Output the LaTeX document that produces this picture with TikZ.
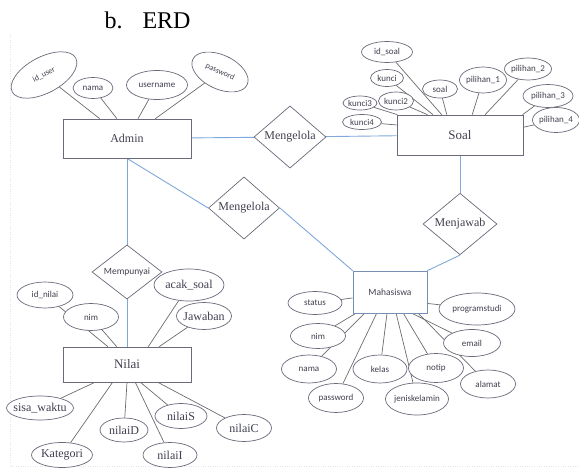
\documentclass[tikz,border=0pt]{standalone}
\usepackage{fontspec}
\setmainfont{Liberation Serif}
\setsansfont{Carlito}
\usepackage{tikz}
\usetikzlibrary{shapes.geometric,backgrounds}
\definecolor{txt}{HTML}{404050}
\definecolor{edge}{HTML}{6A6A7A}
\definecolor{relblue}{HTML}{7FA8DA}
\tikzstyle{entity} = [rectangle, draw=edge, line width=0.7pt, fill=white, text=txt, inner sep=0pt, font=\fontsize{12}{14}\selectfont]
\tikzstyle{attr} = [ellipse, draw=edge, line width=0.7pt, fill=white, text=txt, inner xsep=-3pt, inner ysep=0pt, font=\sffamily\fontsize{9}{10}\selectfont]
\tikzstyle{sattr} = [attr, font=\fontsize{12}{14}\selectfont]
\tikzstyle{rel} = [diamond, draw=edge, line width=0.7pt, fill=white, text=txt, inner sep=0pt, font=\fontsize{12}{14}\selectfont]
\tikzstyle{line} = [draw=gray!85!black, line width=0.7pt]
\tikzstyle{rline} = [draw=relblue, line width=0.9pt]

\begin{document}
\begin{tikzpicture}[x=1pt, y=-1pt]
    \useasboundingbox (0,0) rectangle (579,468);
    \draw[gray!20, dotted] (10,35) -- (10,466) -- (579,466);
    \node[anchor=base west, font=\fontsize{24}{28}\selectfont] (title) at (101,29) {b.\hspace{20pt}ERD};

    % entities
    \node[entity, minimum width=128pt, minimum height=39pt] (admin) at (127,138.5) {Admin};
    \node[entity, minimum width=126pt, minimum height=40pt, font=\fontsize{13}{15}\selectfont] (soal) at (460,135) {Soal};
    \node[entity, minimum width=128pt, minimum height=35pt, font=\fontsize{13}{15}\selectfont] (nilai) at (127,364.5) {Nilai};
    \node[entity, draw=relblue!60!edge, minimum width=74pt, minimum height=42pt, font=\sffamily\fontsize{9.5}{11}\selectfont] (mhs) at (390,292) {Mahasiswa};

    % relations
    \node[rel, minimum width=72pt, minimum height=45pt] (mengelola1) at (290,137) {Mengelola};
    \node[rel, minimum width=71pt, minimum height=45pt] (mengelola2) at (244,208) {Mengelola};
    \node[rel, minimum width=70pt, minimum height=45pt, font=\sffamily\fontsize{9.5}{11}\selectfont] (mempunyai) at (127,272) {Mempunyai};
    \node[rel, minimum width=74pt, minimum height=45pt] (menjawab) at (460,224) {Menjawab};

    % Admin
    \node[attr, rotate=28, minimum width=72pt, minimum height=36pt, font=\sffamily\fontsize{8}{9}\selectfont] (iduser) at (44,75) {id\_user};
    \node[attr, minimum width=40pt, minimum height=21pt] (nama) at (93,88) {nama};
    \node[attr, minimum width=61pt, minimum height=29pt] (username) at (157,85) {username};
    \node[attr, rotate=-25, minimum width=60pt, minimum height=34pt, font=\sffamily\fontsize{8}{9}\selectfont] (password) at (220,72) {password};

    % Soal
    \node[attr, minimum width=51pt, minimum height=21pt] (idsoal) at (387,52) {id\_soal};
    \node[attr, minimum width=33pt, minimum height=17pt] (kunci) at (387,78) {kunci};
    \node[attr, minimum width=34pt, minimum height=14pt] (kunci3) at (360,103) {kunci3};
    \node[attr, minimum width=35pt, minimum height=18pt] (kunci2) at (396,101) {kunci2};
    \node[attr, minimum width=39pt, minimum height=15pt] (kunci4) at (362,122) {kunci4};
    \node[attr, minimum width=35pt, minimum height=18pt] (soalattr) at (440,89) {soal};
    \node[attr, minimum width=47pt, minimum height=26pt] (pil1) at (483,80) {pilihan\_1};
    \node[attr, minimum width=47pt, minimum height=22pt] (pil2) at (528,69) {pilihan\_2};
    \node[attr, minimum width=50pt, minimum height=23pt] (pil3) at (548,96) {pilihan\_3};
    \node[attr, minimum width=47pt, minimum height=25pt] (pil4) at (556,120) {pilihan\_4};

    % Nilai
    \node[attr, minimum width=56pt, minimum height=26pt] (idnilai) at (45,295) {id\_nilai};
    \node[attr, minimum width=55pt, minimum height=27pt] (nimB) at (91,317) {nim};
    \node[sattr, minimum width=70pt, minimum height=32pt] (acaksoal) at (189,285) {acak\_soal};
    \node[sattr, minimum width=55pt, minimum height=27pt] (jawaban) at (204,316) {Jawaban};
    \node[sattr, minimum width=64pt, minimum height=24pt] (sisawaktu) at (40,408) {sisa\_waktu};
    \node[sattr, minimum width=61pt, minimum height=25pt] (kategori) at (62,455) {Kategori};
    \node[sattr, minimum width=48pt, minimum height=24pt] (nilaiD) at (124,430) {nilaiD};
    \node[sattr, minimum width=54pt, minimum height=25pt] (nilaiI) at (170,455) {nilaiI};
    \node[sattr, minimum width=52pt, minimum height=25pt] (nilaiS) at (181,416) {nilaiS};
    \node[sattr, minimum width=55pt, minimum height=27pt] (nilaiC) at (244,428) {nilaiC};

    % Mahasiswa
    \node[attr, minimum width=54pt, minimum height=23pt] (status) at (315,303) {status};
    \node[attr, minimum width=76pt, minimum height=32pt] (prodi) at (477,309) {programstudi};
    \node[attr, minimum width=55pt, minimum height=25pt] (nimA) at (318,336) {nim};
    \node[attr, minimum width=55pt, minimum height=28pt] (namaB) at (309,369) {nama};
    \node[attr, minimum width=55pt, minimum height=29pt] (passwordB) at (336,398) {password};
    \node[attr, minimum width=54pt, minimum height=28pt] (kelas) at (380,369) {kelas};
    \node[attr, minimum width=63pt, minimum height=32pt] (jk) at (417,399) {jeniskelamin};
    \node[attr, minimum width=55pt, minimum height=29pt] (notip) at (436,368) {notip};
    \node[attr, minimum width=57pt, minimum height=27pt] (email) at (472,343) {email};
    \node[attr, minimum width=55pt, minimum height=28pt] (alamat) at (488,384) {alamat};

    \begin{scope}[on background layer]
        \draw[rline] (admin) -- (mengelola1);
        \draw[rline] (mengelola1) -- (soal);
        \draw[rline] (admin.south) -- (mengelola2.west);
        \draw[rline] (mengelola2.east) -- (mhs.north west);
        \draw[rline] (admin) -- (mempunyai);
        \draw[rline] (mempunyai) -- (nilai);
        \draw[rline] (soal) -- (menjawab);
        \draw[rline] (menjawab.south) -- (mhs.north east);

        \draw[line] (iduser) -- (admin.144);
        \draw[line] (nama) -- (admin.117);
        \draw[line] (username) -- (admin.61);
        \draw[line] (password) -- (admin.35);

        \draw[line] (idsoal) -- (soal.132);
        \draw[line] (kunci) -- (soal.143);
        \draw[line] (kunci2) -- (soal.148);
        \draw[line] (kunci3) -- (soal.162);
        \draw[line] (kunci4) -- (soal.171);
        \draw[line] (soalattr) -- (soal.123);
        \draw[line] (pil1) -- (soal.59);
        \draw[line] (pil2) -- (soal.39);
        \draw[line] (pil3) -- (soal.18);
        \draw[line] (pil4) -- (soal.7);

        \draw[line] (idnilai) -- (nilai.137);
        \draw[line] (nimB) -- (nilai.120);
        \draw[line] (acaksoal) -- (nilai.40);
        \draw[line] (jawaban) -- (nilai.29);
        \draw[line] (sisawaktu) -- (nilai.209);
        \draw[line] (kategori) -- (nilai.231);
        \draw[line] (nilaiD) -- (nilai.270);
        \draw[line] (nilaiI) -- (nilai.295);
        \draw[line] (nilaiS) -- (nilai.307);
        \draw[line] (nilaiC) -- (nilai.330);

        \draw[line] (status) -- (mhs.189);
        \draw[line] (prodi) -- (mhs.343);
        \draw[line] (nimA) -- (mhs.212);
        \draw[line] (namaB) -- (mhs.220);
        \draw[line] (passwordB) -- (mhs.238);
        \draw[line] (kelas) -- (mhs.262);
        \draw[line] (jk) -- (mhs.286);
        \draw[line] (notip) -- (mhs.302);
        \draw[line] (email) -- (mhs.316);
        \draw[line] (alamat) -- (mhs.323);
    \end{scope}
\end{tikzpicture}
\end{document}
